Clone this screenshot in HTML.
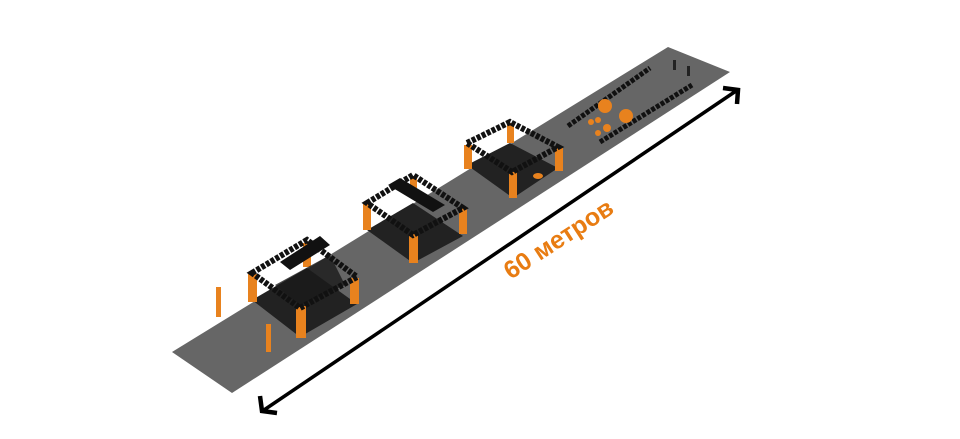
<!DOCTYPE html>
<html><head><meta charset="utf-8"><style>html,body{margin:0;padding:0;background:#fff;width:960px;height:439px;overflow:hidden}</style></head>
<body>
<svg width="960" height="439" viewBox="0 0 960 439" xmlns="http://www.w3.org/2000/svg">
<polygon points="172,352 232,393 730,72 668,47" fill="#666"/>
<!-- frame 1 -->
<g>
<polygon points="252,300 307,268 357,304 300,337" fill="#222"/>
<rect x="248" y="274" width="9" height="28" fill="#e8821e"/>
<rect x="296" y="306" width="10" height="32" fill="#e8821e"/>
<rect x="350" y="278" width="9" height="26" fill="#e8821e"/>
<rect x="303" y="243" width="8" height="24" fill="#e8821e"/>
<polygon points="275,285 330,255 345,285 300,305" fill="#1a1a1a" opacity=".8"/>
<polygon points="252,273 307,240 357,277 300,308" fill="none" stroke="#111" stroke-width="6" stroke-dasharray="4 1.5"/>
<polygon points="280,262 320,236 330,245 290,270" fill="#111"/>
</g>
<!-- frame 2 -->
<g>
<polygon points="367,230 413,203 463,236 413,263" fill="#222"/>
<rect x="363" y="204" width="8" height="26" fill="#e8821e"/>
<rect x="409" y="234" width="9" height="29" fill="#e8821e"/>
<rect x="459" y="208" width="8" height="26" fill="#e8821e"/>
<rect x="410" y="176" width="7" height="20" fill="#e8821e"/>
<polygon points="367,203 413,175 463,208 413,235" fill="none" stroke="#111" stroke-width="6" stroke-dasharray="4 1.5"/>
<polygon points="388,185 400,178 445,205 433,212" fill="#111"/>
</g>
<!-- frame 3 -->
<g>
<polygon points="467,165 510,143 558,168 513,198" fill="#222"/>
<rect x="464" y="145" width="8" height="24" fill="#e8821e"/>
<rect x="509" y="172" width="8" height="26" fill="#e8821e"/>
<rect x="555" y="148" width="8" height="23" fill="#e8821e"/>
<rect x="507" y="123" width="7" height="20" fill="#e8821e"/>
<polygon points="467,143 510,122 558,147 512,172" fill="none" stroke="#111" stroke-width="6" stroke-dasharray="4 1.5"/>
<ellipse cx="538" cy="176" rx="5" ry="3" fill="#e8821e"/>
</g>
<line x1="568" y1="126" x2="650" y2="68" stroke="#111" stroke-width="5" stroke-dasharray="4 1.5"/>
<line x1="600" y1="142" x2="692" y2="85" stroke="#111" stroke-width="5" stroke-dasharray="4 1.5"/>
<circle cx="605" cy="106" r="7" fill="#e8821e"/>
<circle cx="626" cy="116" r="7" fill="#e8821e"/>
<circle cx="591" cy="122" r="3" fill="#e8821e"/>
<circle cx="598" cy="120" r="3" fill="#e8821e"/>
<circle cx="607" cy="128" r="4" fill="#e8821e"/>
<circle cx="598" cy="133" r="3" fill="#e8821e"/>
<rect x="673" y="60" width="3" height="10" fill="#222"/>
<rect x="687" y="66" width="3" height="10" fill="#222"/>
<rect x="216" y="287" width="5" height="30" fill="#e8821e"/>
<rect x="266" y="324" width="5" height="28" fill="#e8821e"/>
<line x1="264" y1="410" x2="736" y2="91" stroke="#000" stroke-width="3.5"/>
<polyline points="260,396 262,411 277,413" fill="none" stroke="#000" stroke-width="4.5"/>
<polyline points="723,88 738,90 737,104" fill="none" stroke="#000" stroke-width="4.5"/>
<text x="0" y="0" transform="translate(563,246) rotate(-33)" text-anchor="middle" font-family="Liberation Sans, sans-serif" font-weight="bold" font-size="25" fill="#e87c12">60 метров</text>
</svg>
</body></html>
